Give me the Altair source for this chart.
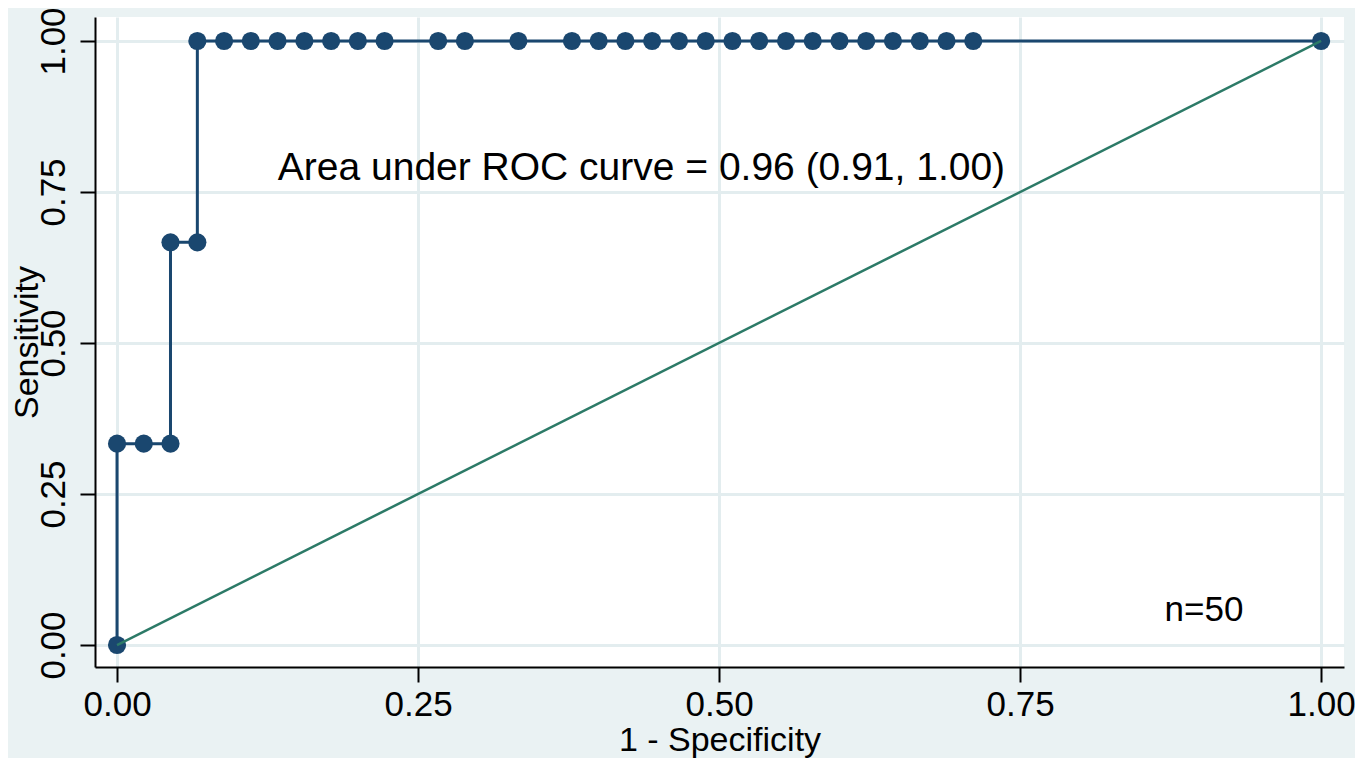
import altair as alt
import pandas as pd

# ROC curve points (1 - specificity, sensitivity)
fpr = [0.0, 0.0, 0.0222, 0.0444, 0.0444, 0.0667, 0.0667, 0.0889, 0.1111,
       0.1333, 0.1556, 0.1778, 0.2, 0.2222, 0.2667, 0.2889, 0.3333, 0.3778,
       0.4, 0.4222, 0.4444, 0.4667, 0.4889, 0.5111, 0.5333, 0.5556, 0.5778,
       0.6, 0.6222, 0.6444, 0.6667, 0.6889, 0.7111, 1.0]
sens = [0.0, 0.3333, 0.3333, 0.3333, 0.6667, 0.6667, 1.0, 1.0, 1.0,
        1.0, 1.0, 1.0, 1.0, 1.0, 1.0, 1.0, 1.0, 1.0,
        1.0, 1.0, 1.0, 1.0, 1.0, 1.0, 1.0, 1.0, 1.0,
        1.0, 1.0, 1.0, 1.0, 1.0, 1.0, 1.0]

ref_x = [0.0, 1.0]
ref_y = [0.0, 1.0]

tick_values = [0.0, 0.25, 0.5, 0.75, 1.0]

auc_label = "Area under ROC curve = 0.96 (0.91, 1.00)"
n_label = "n=50"

NAVY = "#1A476F"
GREEN = "#2C7A67"
BG = "#EAF2F3"
GRID = "#E3EDEF"
FONT = "Liberation Sans"

roc = pd.DataFrame({"fpr": fpr, "sens": sens, "order": list(range(len(fpr)))})
diag = pd.DataFrame({"fpr": ref_x, "sens": ref_y})
notes = pd.DataFrame({
    "fpr": [0.1335, 0.870],
    "sens": [0.790, 0.058],
    "label": [auc_label, n_label],
    "size": [39, 35],
})

xscale = alt.Scale(domain=[-0.0183, 1.019], nice=False, zero=False)
yscale = alt.Scale(domain=[-0.0364, 1.0397], nice=False, zero=False)

xaxis = alt.Axis(values=tick_values, format=".2f", title="1 - Specificity",
                 labelFontSize=35, titleFontSize=34, labelPadding=5,
                 titleBaseline="alphabetic", titleAlign="center",
                 titleX=624.5, titleY=83, labelFlush=False)
yaxis = alt.Axis(values=tick_values, format=".2f", title="Sensitivity",
                 labelFontSize=35, titleFontSize=34, labelAngle=270,
                 labelAlign="center", labelBaseline="bottom", labelPadding=9,
                 titleAngle=270, titleBaseline="alphabetic", titleAlign="center",
                 titleX=-58, titleY=325, labelFlush=False)

base = alt.Chart(roc)

line = base.mark_line(color=NAVY, strokeWidth=3).encode(
    x=alt.X("fpr:Q", scale=xscale, axis=xaxis),
    y=alt.Y("sens:Q", scale=yscale, axis=yaxis),
    order="order:Q",
)
pts = base.mark_circle(color=NAVY, size=330, opacity=1).encode(
    x=alt.X("fpr:Q", scale=xscale),
    y=alt.Y("sens:Q", scale=yscale),
)
dline = alt.Chart(diag).mark_line(color=GREEN, strokeWidth=2.5).encode(
    x=alt.X("fpr:Q", scale=xscale),
    y=alt.Y("sens:Q", scale=yscale),
)
text = alt.Chart(notes).mark_text(align="left", baseline="middle",
                                  font=FONT, color="black").encode(
    x=alt.X("fpr:Q", scale=xscale),
    y=alt.Y("sens:Q", scale=yscale),
    text="label:N",
    size=alt.Size("size:Q", scale=None, legend=None),
)

chart = alt.layer(line, pts, dline, text).properties(
    width=1249, height=650,
    autosize=alt.AutoSizeParams(type="none"),
    padding={"left": 87, "top": 9, "right": 11, "bottom": 91},
    background=BG,
).configure_view(
    fill="white", stroke=None,
).configure_axis(
    domainColor="black", domainWidth=2, tickColor="black", tickWidth=2,
    tickSize=15, gridColor=GRID, gridWidth=3, labelColor="black",
    titleColor="black", labelFont=FONT, titleFont=FONT,
    titleFontWeight="normal",
)

chart.save("out.html", embed_options={"renderer": "svg", "actions": False})
